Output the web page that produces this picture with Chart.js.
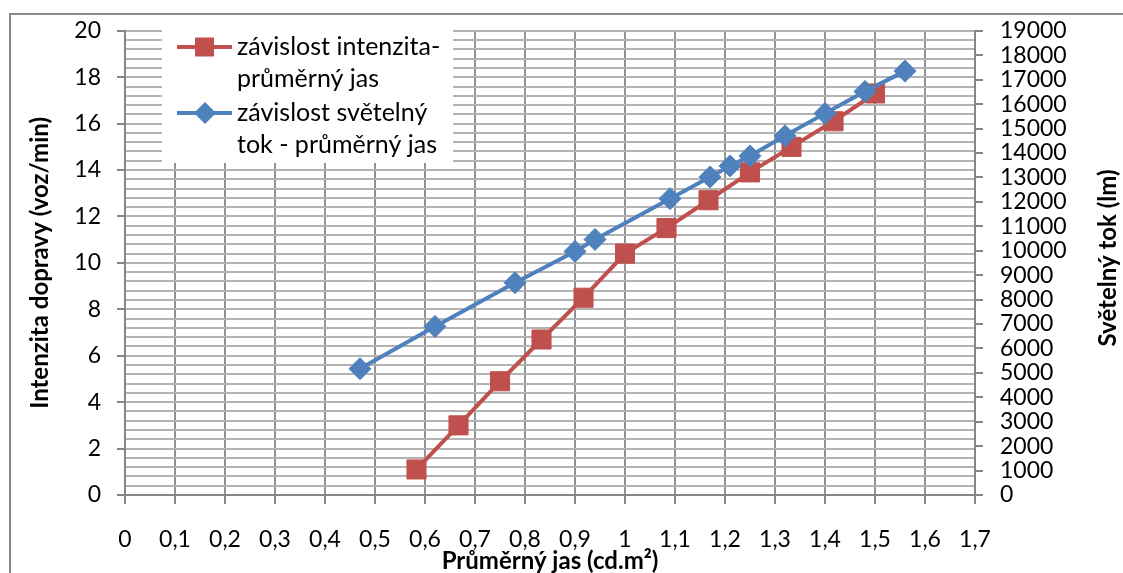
<!DOCTYPE html>
<html>
<head>
<meta charset="utf-8">
<script src="https://cdn.jsdelivr.net/npm/chart.js@4.4.1/dist/chart.umd.min.js"></script>
<style>
  body { margin: 0; background: #fff; }
  canvas { display: block; }
</style>
</head>
<body>
<canvas id="jasChart" width="1123" height="573"></canvas>
<script>
// prumerny jas (x) and intenzita dopravy (left axis)
const jasIntenzita = [0.583, 0.667, 0.75, 0.833, 0.917, 1.0, 1.083, 1.167, 1.25, 1.333, 1.417, 1.5];
const intenzita = [1.1, 3.0, 4.9, 6.7, 8.5, 10.4, 11.5, 12.7, 13.9, 15.0, 16.1, 17.3];
// prumerny jas (x) and svetelny tok (right axis)
const jasTok = [0.47, 0.62, 0.78, 0.90, 0.94, 1.09, 1.17, 1.21, 1.25, 1.32, 1.40, 1.48, 1.56];
const tok = [5170, 6900, 8690, 9970, 10460, 12130, 13020, 13470, 13880, 14700, 15620, 16520, 17350];

const legendLabels = [
    ['závislost intenzita-', 'průměrný jas'],
    ['závislost světelný', 'tok - průměrný jas']
];
const xTitle = 'Průměrný jas (cd.m²)';
const yLeftTitle = 'Intenzita dopravy (voz/min)';
const yRightTitle = 'Světelný tok (lm)';

const red = '#C0504D';
const blue = '#4F81BD';
const axisGray = '#868686';
const fam = 'Lato, "Open Sans", sans-serif';

Chart.defaults.font.family = fam;
Chart.defaults.color = '#000';

function toPoints(xs, ys) {
    return xs.map((x, i) => ({x: x, y: ys[i]}));
}

function comma(v) {
    let s = (Math.round(v * 10) / 10).toString();
    return s.replace('.', ',');
}

function isMajor(v) {
    return Math.abs(v / 2 - Math.round(v / 2)) < 1e-6;
}

// frame, legend and the right axis title
const extras = {
    id: 'extras',
    afterDraw(chart) {
        const ctx = chart.ctx;
        ctx.save();
        ctx.strokeStyle = '#898989';
        ctx.lineWidth = 2;
        ctx.strokeRect(10, 14, 1300, 700);

        // legend
        ctx.fillStyle = '#fff';
        ctx.fillRect(162, 30, 291, 133);
        ctx.font = '25px ' + fam;
        ctx.textBaseline = 'middle';
        ctx.textAlign = 'left';
        const rows = [
            {y: 47, color: red, style: 'rect'},
            {y: 113, color: blue, style: 'rectRot'}
        ];
        rows.forEach((r, i) => {
            ctx.strokeStyle = r.color;
            ctx.lineWidth = 4;
            ctx.beginPath();
            ctx.moveTo(177, r.y);
            ctx.lineTo(232, r.y);
            ctx.stroke();
            ctx.fillStyle = r.color;
            if (r.style === 'rect') {
                ctx.fillRect(195, r.y - 9.5, 19, 19);
            } else {
                ctx.beginPath();
                ctx.moveTo(205, r.y - 11);
                ctx.lineTo(216, r.y);
                ctx.lineTo(205, r.y + 11);
                ctx.lineTo(194, r.y);
                ctx.closePath();
                ctx.fill();
            }
            ctx.fillStyle = '#000';
            ctx.fillText(legendLabels[i][0], 237, r.y);
            ctx.fillText(legendLabels[i][1], 237, r.y + 32);
        });

        // right axis title, reading upwards like the left one
        ctx.translate(1108, 258);
        ctx.rotate(-Math.PI / 2);
        ctx.font = 'bold 24px ' + fam;
        ctx.textAlign = 'center';
        ctx.textBaseline = 'middle';
        ctx.fillStyle = '#000';
        ctx.fillText(yRightTitle, 0, 0);
        ctx.restore();
    }
};

new Chart(document.getElementById('jasChart'), {
    type: 'scatter',
    data: {
        datasets: [{
            label: legendLabels[0].join(''),
            data: toPoints(jasIntenzita, intenzita),
            yAxisID: 'y',
            showLine: true,
            borderColor: red,
            backgroundColor: red,
            borderWidth: 4,
            pointStyle: 'rect',
            pointRadius: 13.5,
            pointBorderWidth: 1,
            pointBorderColor: red,
            order: 2
        }, {
            label: legendLabels[1].join(''),
            data: toPoints(jasTok, tok),
            yAxisID: 'y2',
            showLine: true,
            borderColor: blue,
            backgroundColor: blue,
            borderWidth: 4,
            pointStyle: 'rectRot',
            pointRadius: 11,
            pointBorderWidth: 1,
            pointBorderColor: blue,
            order: 1
        }]
    },
    options: {
        responsive: false,
        animation: false,
        devicePixelRatio: 1,
        layout: {padding: 0},
        plugins: {
            legend: {display: false},
            tooltip: {enabled: false}
        },
        scales: {
            x: {
                type: 'linear',
                position: 'bottom',
                min: 0,
                max: 1.7,
                ticks: {
                    stepSize: 0.1,
                    padding: 22,
                    font: {size: 23},
                    maxRotation: 0,
                    autoSkip: false,
                    callback: v => comma(v)
                },
                grid: {color: '#939393', lineWidth: 2, tickLength: 9, tickColor: axisGray},
                border: {color: axisGray, width: 2},
                title: {
                    display: true,
                    text: xTitle,
                    font: {size: 24, weight: 'bold'},
                    padding: {top: 0, bottom: -3}
                },
                afterFit: s => { s.height = 78; }
            },
            y: {
                type: 'linear',
                position: 'left',
                min: 0,
                max: 20,
                ticks: {
                    stepSize: 0.4,
                    autoSkip: false,
                    padding: 16,
                    font: {size: 23},
                    callback: v => isMajor(v) ? String(Math.round(v)) : ''
                },
                grid: {
                    color: '#b3b3b3',
                    lineWidth: 2,
                    tickLength: 8,
                    tickColor: c => (c.tick && isMajor(c.tick.value)) ? axisGray : 'rgba(0,0,0,0)'
                },
                border: {color: axisGray, width: 2},
                title: {
                    display: true,
                    text: yLeftTitle,
                    font: {size: 24, weight: 'bold'},
                    padding: {top: 26, bottom: 0}
                },
                afterFit: s => { s.width = 125; }
            },
            y2: {
                type: 'linear',
                position: 'right',
                min: 0,
                max: 19000,
                ticks: {
                    stepSize: 1000,
                    autoSkip: false,
                    padding: 17,
                    font: {size: 23},
                    callback: v => String(v)
                },
                grid: {drawOnChartArea: false, tickLength: 8, tickColor: axisGray, lineWidth: 2},
                border: {color: axisGray, width: 2},
                afterFit: s => { s.width = 148; }
            }
        }
    },
    plugins: [extras]
});
</script>
</body>
</html>
